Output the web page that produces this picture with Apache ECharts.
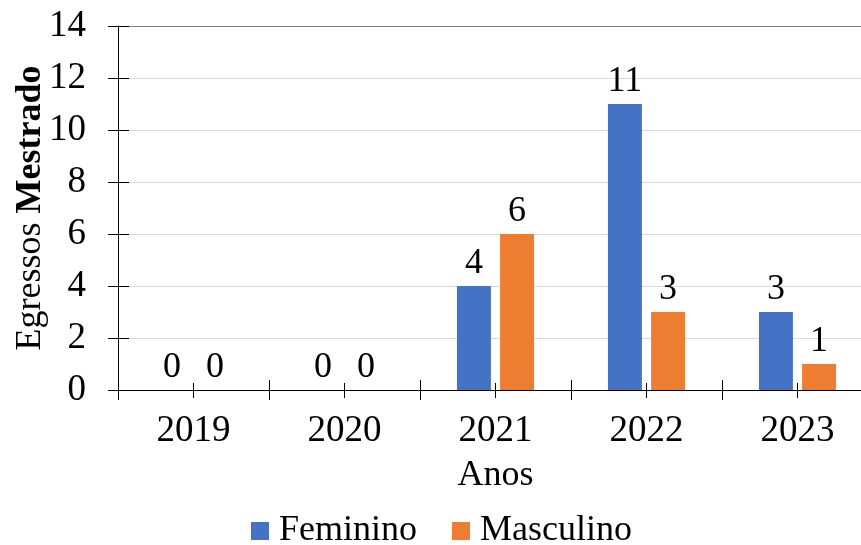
<!DOCTYPE html>
<html>
<head>
<meta charset="utf-8">
<script src="https://cdn.jsdelivr.net/npm/echarts@6/dist/echarts.min.js"></script>
<style>html,body{margin:0;padding:0;background:#fff}#c{width:861px;height:545px}</style>
</head>
<body>
<div id="c"></div>
<script>
const categories = ['2019', '2020', '2021', '2022', '2023'];
const feminino = [0, 0, 4, 11, 3];
const masculino = [0, 0, 6, 3, 1];
const seriesNames = ['Feminino', 'Masculino'];
const yTitle = 'Egressos';
const yTitleBold = 'Mestrado';
const xTitle = 'Anos';

const FONT = '"Liberation Serif", "Times New Roman", serif';
const chart = echarts.init(document.getElementById('c'), null, {renderer: 'canvas'});

const hiddenX = (tick) => ({
  type: 'category', data: categories, position: 'bottom',
  axisLine: {show: false}, axisLabel: {show: false}, splitLine: {show: false},
  axisTick: Object.assign({show: true, lineStyle: {color: '#000', width: 1}}, tick)
});

const labelStyle = {show: true, position: 'top', distance: 4, fontFamily: FONT, fontSize: 36, color: '#000'};

const option = {
  animation: false,
  color: ['#4472C4', '#ED7D31'],
  textStyle: {fontFamily: FONT},
  grid: {left: 118, width: 755, top: 26, bottom: 155, containLabel: false, outerBoundsMode: 'none'},
  legend: {
    bottom: -9, left: 246,
    itemWidth: 18, itemHeight: 18, itemGap: 35,
    icon: 'rect',
    textStyle: {fontFamily: FONT, fontSize: 36, color: '#000', padding: [0, 0, 0, 5]},
    data: seriesNames
  },
  xAxis: [
    {
      type: 'category', data: categories, position: 'bottom',
      name: xTitle, nameLocation: 'middle', nameGap: 68, nameMoveOverlap: false,
      nameTextStyle: {fontFamily: FONT, fontSize: 36, color: '#000'},
      axisLine: {lineStyle: {color: '#000', width: 1}},
      axisTick: {show: true, inside: false, length: 10, lineStyle: {color: '#000'}},
      axisLabel: {fontFamily: FONT, fontSize: 37, color: '#000', margin: 23}
    },
    hiddenX({inside: true, length: 10}),
    hiddenX({inside: false, length: 8, alignWithLabel: true}),
    hiddenX({inside: true, length: 7, alignWithLabel: true})
  ],
  yAxis: [
    {
      type: 'value', min: 0, max: 14, interval: 2,
      name: '{n|' + yTitle + '} {b|' + yTitleBold + '}',
      nameLocation: 'middle', nameGap: 69, nameRotate: 90, nameMoveOverlap: false,
      nameTextStyle: {
        fontFamily: FONT, fontSize: 36, color: '#000',
        rich: {
          n: {fontFamily: FONT, fontSize: 36, color: '#000'},
          b: {fontFamily: FONT, fontSize: 36, color: '#000', fontWeight: 'bold'}
        }
      },
      axisLine: {show: true, lineStyle: {color: '#000', width: 1}},
      axisTick: {show: true, inside: false, length: 10, lineStyle: {color: '#000'}},
      axisLabel: {fontFamily: FONT, fontSize: 37, color: '#000', margin: 32},
      splitLine: {show: true, lineStyle: {
        color: ['#d9d9d9', '#d9d9d9', '#d9d9d9', '#d9d9d9', '#d9d9d9', '#d9d9d9', '#d9d9d9', '#7f7f7f'],
        width: 1}}
    },
    {
      type: 'value', min: 0, max: 14, interval: 2, position: 'left',
      axisLine: {show: false}, axisLabel: {show: false}, splitLine: {show: false},
      axisTick: {show: true, inside: true, length: 11, lineStyle: {color: '#000'}}
    }
  ],
  series: [
    {
      name: seriesNames[0], type: 'bar', data: feminino,
      barWidth: '22.5%', barGap: '27%',
      label: labelStyle
    },
    {
      name: seriesNames[1], type: 'bar', data: masculino,
      barWidth: '22.5%', barGap: '27%',
      label: labelStyle
    }
  ]
};
chart.setOption(option);
</script>
</body>
</html>
